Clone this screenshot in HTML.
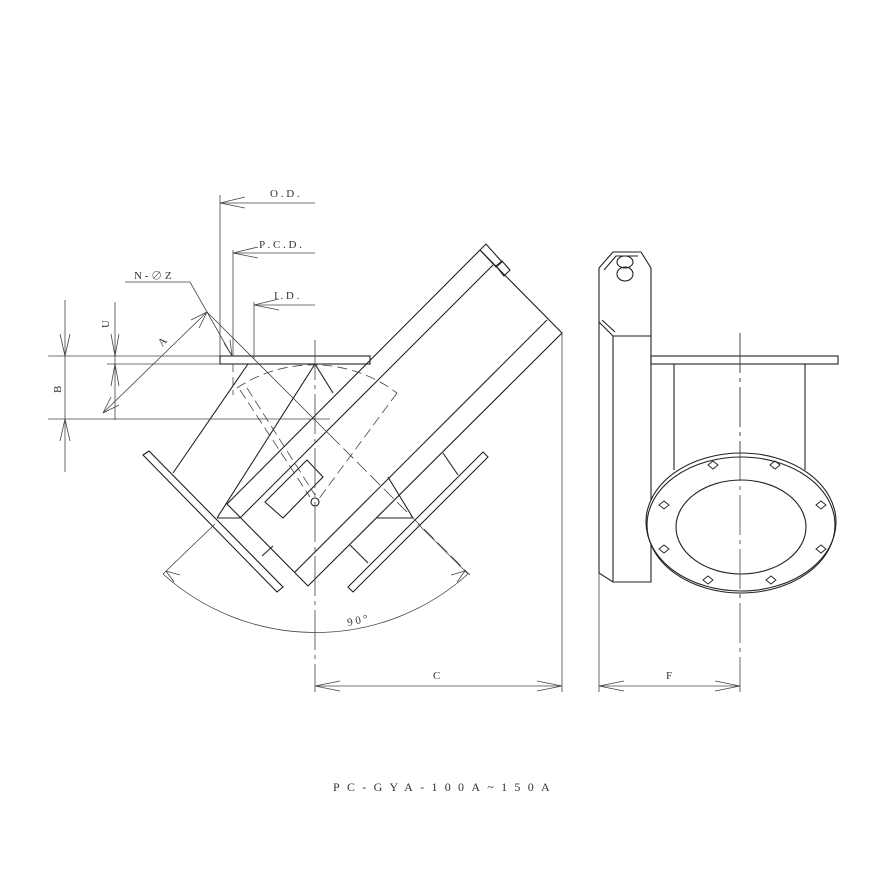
<!DOCTYPE html>
<html><head><meta charset="utf-8"><style>
html,body{margin:0;padding:0;background:#fff;}
svg{display:block;}
text{font-family:"Liberation Serif","Noto Serif CJK SC",serif;fill:#333;}
</style></head><body>
<svg width="888" height="888" viewBox="0 0 888 888" xmlns="http://www.w3.org/2000/svg">
<g fill="none" stroke="#222" stroke-width="1.1">
<rect x="220" y="356" width="150" height="8"/>
<polygon points="480,250 562,333 308,586 227,504"/>
<line x1="493" y1="265" x2="240" y2="518"/>
<line x1="547" y1="320" x2="295" y2="572"/>
<polygon points="480,250 486,244 502,262 496,267"/>
<polygon points="496,266 502,261 510,270 504,276"/>
<line x1="248" y1="364" x2="173" y2="473"/>
<line x1="315" y1="364" x2="217" y2="518"/>
<line x1="315" y1="364" x2="333" y2="393"/>
<line x1="217" y1="518" x2="240" y2="518"/>
<polygon points="143,455 149,451 283,587 277,592"/>
<polygon points="348,587 483,452 488,457 353,592"/>
<line x1="388" y1="477" x2="413" y2="518"/>
<line x1="377" y1="518" x2="413" y2="518"/>
<line x1="443" y1="453" x2="458" y2="475"/>
<line x1="350" y1="545" x2="368" y2="563"/>
<line x1="262" y1="556" x2="273" y2="546"/>
<polygon points="265,502 307,460 323,477 283,518"/>
<circle cx="315" cy="502" r="4"/>
</g>
<g fill="none" stroke="#444" stroke-width="0.8">
<path d="M237,388 A138,138 0 0 1 397,393" stroke-dasharray="10,5"/>
<line x1="397" y1="393" x2="318" y2="500" stroke-dasharray="10,5"/>
<line x1="240" y1="390" x2="310" y2="497" stroke-dasharray="10,5"/>
<line x1="247" y1="388" x2="315" y2="495" stroke-dasharray="10,5"/>
<line x1="207" y1="312" x2="330" y2="435"/>
<line x1="330" y1="435" x2="470" y2="575" stroke-dasharray="14,5"/>
<line x1="315" y1="340" x2="315" y2="692" stroke-dasharray="40,5,4,5"/>
<line x1="233" y1="364" x2="233" y2="395" stroke-dasharray="8,5"/>
<path d="M163,574 A228,228 0 0 0 468,574"/>
<line x1="163" y1="574" x2="215" y2="524"/>
<line x1="468" y1="574" x2="418" y2="524"/>
<path d="M166,571 l14,4 M166,571 l8,11"/>
<path d="M465,571 l-14,4 M465,571 l-8,11"/>
<line x1="48" y1="356" x2="220" y2="356"/>
<line x1="107" y1="364" x2="220" y2="364"/>
<line x1="48" y1="419" x2="330" y2="419"/>
<line x1="65" y1="300" x2="65" y2="472"/>
<path d="M60,334 L65,356 L70,334 M60,441 L65,419 L70,441"/>
<line x1="115" y1="302" x2="115" y2="420"/>
<path d="M111,334 L115,356 L119,334 M111,386 L115,364 L119,386"/>
<line x1="103" y1="413" x2="207" y2="312"/>
<path d="M103,413 l8,-16 M103,413 l16,-8 M207,312 l-8,16 M207,312 l-16,8"/>
<path d="M125,282 L190,282 L232,356"/>
<path d="M232,356 l-2,-16 M232,356 l-8,-13"/>
<line x1="220" y1="195" x2="220" y2="356"/>
<line x1="220" y1="203" x2="315" y2="203"/>
<path d="M245,197 L220,203 L245,208"/>
<line x1="233" y1="250" x2="233" y2="356"/>
<line x1="233" y1="253" x2="315" y2="253"/>
<path d="M258,247 L233,253 L258,258"/>
<line x1="254" y1="302" x2="254" y2="358"/>
<line x1="254" y1="305" x2="315" y2="305"/>
<path d="M279,299 L254,305 L279,310"/>
<line x1="562" y1="333" x2="562" y2="692"/>
<line x1="315" y1="686" x2="562" y2="686"/>
<path d="M340,681 L315,686 L340,691 M537,681 L562,686 L537,691"/>
<line x1="599" y1="573" x2="599" y2="692"/>
<line x1="599" y1="686" x2="740" y2="686"/>
<path d="M624,681 L599,686 L624,691 M715,681 L740,686 L715,691"/>
<line x1="740" y1="333" x2="740" y2="692" stroke-dasharray="40,5,4,5"/>
</g>
<g fill="none" stroke="#222" stroke-width="1.1">
<polygon points="599,268 613,252 641,252 651,268 651,582 613,582 599,573"/>
<polyline points="604,270 616,256 638,256"/>
<polyline points="599,322 613,336 651,336"/>
<polyline points="602,320 615,332"/>
<line x1="613" y1="336" x2="613" y2="582"/>
<ellipse cx="625" cy="262" rx="8" ry="6"/>
<ellipse cx="625" cy="274" rx="8" ry="7"/>
<rect x="651" y="356" width="187" height="8"/>
<line x1="674" y1="364" x2="674" y2="470"/>
<line x1="805" y1="364" x2="805" y2="470"/>
<ellipse cx="741" cy="522" rx="95" ry="69" fill="#fff"/>
<ellipse cx="741" cy="525" rx="94" ry="68"/>
<ellipse cx="741" cy="527" rx="65" ry="47"/>
<g stroke-width="0.9">
<path d="M708,465 l5,-4 l5,4 l-5,4z M770,465 l5,-4 l5,4 l-5,4z"/>
<path d="M659,505 l5,-4 l5,4 l-5,4z M816,505 l5,-4 l5,4 l-5,4z"/>
<path d="M659,549 l5,-4 l5,4 l-5,4z M816,549 l5,-4 l5,4 l-5,4z"/>
<path d="M703,580 l5,-4 l5,4 l-5,4z M766,580 l5,-4 l5,4 l-5,4z"/>
</g>
</g>
<line x1="740" y1="333" x2="740" y2="600" stroke="#444" stroke-width="0.8" stroke-dasharray="40,5,4,5"/>
<g font-size="11">
<text x="270" y="197">O . D .</text>
<text x="259" y="248">P . C . D .</text>
<text x="274" y="299">I . D .</text>
<text x="134" y="279">N - ∅ Z</text>
<text x="433" y="679">C</text>
<text x="666" y="679">F</text>
<text transform="translate(61,393) rotate(-90)">B</text>
<text transform="translate(109,328) rotate(-90)">U</text>
<text transform="translate(162,347) rotate(-45)">A</text>
<text transform="translate(348,626) rotate(-12)">9 0 °</text>
<text x="333" y="791" font-size="12" letter-spacing="7.3">PC-GYA-100A~150A</text>
</g>
</svg>
</body></html>
